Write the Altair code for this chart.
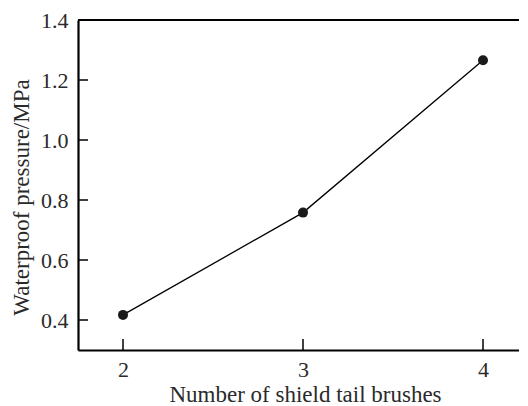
import altair as alt
import pandas as pd

brushes = [2, 3, 4]
pressure = [0.417, 0.758, 1.266]
y_ticks = [0.4, 0.6, 0.8, 1.0, 1.2, 1.4]
x_ticks = [2, 3, 4]

df = pd.DataFrame({"brushes": brushes, "pressure": pressure})
ytick_df = pd.DataFrame({"v": y_ticks[:-1]})
xtick_df = pd.DataFrame({"v": x_ticks})

W, H = 441, 330
FONT = "Liberation Serif"
TXT = "#2a2a2a"

xscale = alt.Scale(domain=[1.75, 4.2], nice=False, zero=False)
yscale = alt.Scale(domain=[0.3, 1.4], nice=False, zero=False)

xaxis = alt.Axis(values=x_ticks, format="d", ticks=False, grid=False,
                 domainColor="black", domainWidth=2.2, labelPadding=9,
                 labelFont=FONT, labelFontSize=22, labelColor=TXT,
                 title="Number of shield tail brushes", titleFont=FONT,
                 titleFontSize=23, titleFontWeight="normal", titleColor=TXT,
                 titlePadding=3, titleX=227)
yaxis = alt.Axis(values=y_ticks, format=".1f", ticks=False, grid=False,
                 domainColor="black", domainWidth=2.2, labelPadding=10,
                 labelFont=FONT, labelFontSize=22, labelColor=TXT,
                 title="Waterproof pressure/MPa", titleFont=FONT,
                 titleFontSize=23, titleFontWeight="normal", titleColor=TXT,
                 titlePadding=7, titleY=177)

base = alt.Chart(df)
line = base.mark_line(color="black", strokeWidth=1.3).encode(
    x=alt.X("brushes:Q", scale=xscale, axis=xaxis),
    y=alt.Y("pressure:Q", scale=yscale, axis=yaxis),
)
pts = base.mark_circle(color="#1a1a1a", size=100, opacity=1).encode(
    x=alt.X("brushes:Q", scale=xscale),
    y=alt.Y("pressure:Q", scale=yscale),
)
top = alt.Chart(df).mark_rule(color="black", strokeWidth=2.2).encode(
    y=alt.datum(1.4, scale=yscale)
)
yt = alt.Chart(ytick_df).mark_rule(color="black", strokeWidth=1.5).encode(
    y=alt.Y("v:Q", scale=yscale), x=alt.value(0), x2=alt.value(10)
)
xt = alt.Chart(xtick_df).mark_rule(color="black", strokeWidth=1.5).encode(
    x=alt.X("v:Q", scale=xscale), y=alt.value(H), y2=alt.value(H - 11)
)

chart = alt.layer(line, pts, top, yt, xt).properties(
    width=W, height=H,
    autosize=alt.AutoSizeParams(type="none"),
    padding={"left": 70, "top": 12, "right": 0, "bottom": 55},
).configure_view(stroke=None).configure(background="white")

chart.save("out.html", embed_options={"renderer": "svg", "actions": False})
